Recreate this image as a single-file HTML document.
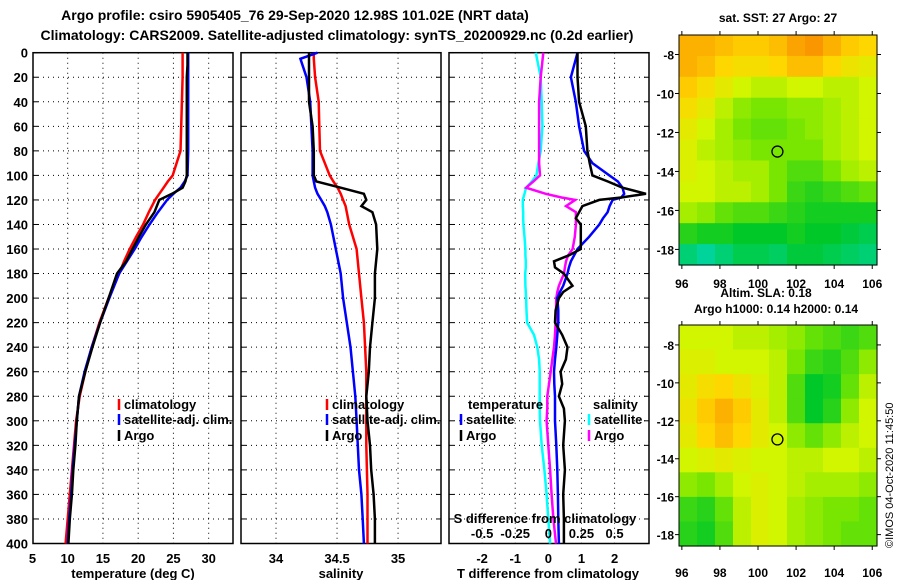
<!DOCTYPE html>
<html><head><meta charset="utf-8"><style>
body{margin:0;background:#fff;}
svg{display:block;font-family:"Liberation Sans",sans-serif;font-weight:bold;}
</style></head><body>
<svg id="c" width="900" height="580" xmlns="http://www.w3.org/2000/svg">
<text x="295" y="20" font-size="14" text-anchor="middle">Argo profile: csiro 5905405_76 29-Sep-2020 12.98S 101.02E (NRT data)</text>
<text x="337" y="40" font-size="14" text-anchor="middle">Climatology: CARS2009. Satellite-adjusted climatology: synTS_20200929.nc (0.2d earlier)</text>
<text x="133" y="578" font-size="13" text-anchor="middle">temperature (deg C)</text>
<text x="341" y="578" font-size="13" text-anchor="middle">salinity</text>
<text x="548" y="578" font-size="13" text-anchor="middle">T difference from climatology</text>
<text x="778" y="22" font-size="12" text-anchor="middle">sat. SST: 27 Argo: 27</text>
<text x="766" y="297" font-size="12" text-anchor="middle">Altim. SLA: 0.18</text>
<text x="776" y="313" font-size="12" text-anchor="middle">Argo h1000: 0.14 h2000: 0.14</text>
<text transform="translate(893,548) rotate(-90)" font-size="11" font-weight="normal">©IMOS 04-Oct-2020 11:45:50</text>
<g id="g"></g>
</svg>
<script>
const depths=[0,10,20,40,60,80,100,105,110,115,120,130,140,150,160,170,180,200,220,240,260,280,300,320,340,360,380,400];
const tempClim=[26.3,26.3,26.3,26.2,26.1,26.0,24.9,24.2,23.6,23.0,22.4,21.5,20.7,19.7,18.8,18.0,17.3,15.8,14.5,13.4,12.5,11.7,11.2,10.9,10.6,10.3,10.0,9.7];
const tempSat=[27.1,27.1,27.1,27.1,27.1,27.1,27.0,26.6,26.0,25.0,24.1,22.8,21.6,20.5,19.5,18.4,17.3,15.9,14.6,13.4,12.4,11.6,11.3,11.0,10.7,10.5,10.2,10.0];
const tempArgo=[27.0,27.0,26.9,26.9,26.9,26.9,26.9,26.7,26.3,24.8,23.0,22.3,21.1,20.1,19.2,18.3,17.0,15.8,14.6,13.5,12.5,11.6,11.3,11.1,10.8,10.6,10.3,10.1];
const sDepths=[0,5,20,40,60,80,100,105,110,115,120,125,130,140,160,180,200,220,240,260,280,300,320,340,360,380,400];
const salClim=[34.31,34.31,34.32,34.35,34.355,34.36,34.44,34.47,34.505,34.53,34.55,34.57,34.58,34.60,34.66,34.68,34.70,34.72,34.73,34.74,34.74,34.74,34.74,34.745,34.75,34.75,34.75];
const salSat=[34.34,34.20,34.25,34.28,34.29,34.30,34.30,34.31,34.32,34.34,34.37,34.40,34.42,34.45,34.49,34.53,34.55,34.58,34.61,34.63,34.65,34.66,34.67,34.68,34.70,34.71,34.72];
const salArgo=[34.27,34.27,34.27,34.27,34.30,34.31,34.31,34.33,34.53,34.72,34.74,34.70,34.79,34.82,34.83,34.81,34.81,34.79,34.77,34.76,34.74,34.75,34.77,34.78,34.80,34.81,34.81];
const dDepths=[0,20,40,60,80,90,100,105,110,115,118,120,125,130,135,140,150,160,165,170,175,180,190,195,200,210,220,230,240,250,260,270,280,290,300,320,340,360,380,400];
const tDiffArgo=[0.88,0.88,0.93,1.13,1.18,1.25,1.33,1.8,2.24,2.95,2.2,1.54,1.03,0.93,0.83,0.98,0.98,0.98,0.63,0.17,0.2,0.47,0.73,0.45,0.32,0.22,0.2,0.42,0.58,0.53,0.37,0.42,0.32,0.47,0.5,0.45,0.5,0.45,0.47,0.47];
const tDiffSat=[0.88,0.68,0.83,0.93,1.08,1.33,1.84,2.1,2.24,2.29,2.2,1.94,1.85,1.79,1.65,1.54,1.23,0.88,0.78,0.68,0.62,0.58,0.45,0.35,0.27,0.3,0.3,0.27,0.24,0.2,0.17,0.18,0.2,0.2,0.2,0.24,0.27,0.29,0.3,0.32];
const sDiffArgo=[-0.038,-0.058,-0.07,-0.07,-0.07,-0.07,-0.063,-0.113,-0.168,-0.02,0.1,0.203,0.133,0.208,0.208,0.208,0.2,0.183,0.15,0.133,0.125,0.118,0.08,0.068,0.06,0.058,0.055,0.05,0.043,0.03,0.018,0.005,-0.008,-0.008,-0.013,0,0.013,0.025,0.038,0.058];
const sDiffSat=[-0.095,-0.058,-0.05,-0.045,-0.058,-0.075,-0.09,-0.125,-0.168,-0.18,-0.188,-0.193,-0.193,-0.19,-0.19,-0.188,-0.18,-0.173,-0.173,-0.17,-0.17,-0.175,-0.173,-0.17,-0.168,-0.165,-0.16,-0.108,-0.083,-0.07,-0.065,-0.065,-0.065,-0.065,-0.063,-0.05,-0.03,-0.013,0,0.013];
const depthTicks=[0,20,40,60,80,100,120,140,160,180,200,220,240,260,280,300,320,340,360,380,400];
const tTicks=[5,10,15,20,25,30];
const sTicks=[34,34.5,35];
const dTTicks=[-2,-1,0,1,2];
const dSTicks=[-0.5,-0.25,0,0.25,0.5];
const dSTickLabels=["-0.5","-0.25","0","0.25","0.5"];
const lonTicks=[96,98,100,102,104,106];
const latTicks=[-8,-10,-12,-14,-16,-18];
const sstGrid=[
[2.8,2.8,2.7,2.6,2.6,2.7,2.9,3.0,2.8,2.6,2.5],
[2.8,2.7,2.5,2.4,2.4,2.5,2.7,2.7,2.5,2.3,2.2],
[2.6,2.4,2.2,2.0,1.9,1.9,2.0,2.0,1.9,1.9,2.0],
[2.4,2.2,1.9,1.7,1.6,1.6,1.7,1.7,1.8,1.9,2.0],
[2.2,2.0,1.8,1.6,1.5,1.5,1.6,1.7,1.8,1.9,2.0],
[2.1,1.9,1.8,1.7,1.6,1.6,1.6,1.6,1.8,1.9,2.0],
[2.1,2.0,1.9,1.8,1.8,1.6,1.4,1.4,1.6,1.8,1.9],
[2.0,2.0,1.9,1.9,1.8,1.6,1.3,1.2,1.3,1.4,1.5],
[1.8,1.7,1.5,1.4,1.4,1.3,1.2,1.1,1.1,1.1,1.1],
[1.2,1.1,1.1,1.0,1.0,1.0,1.1,1.0,1.0,0.9,0.8],
[0.6,0.4,0.6,0.8,0.8,0.7,0.9,0.9,0.8,0.7,0.6]];
const slaGrid=[
[2.0,2.0,2.0,1.9,1.9,1.8,1.7,1.5,1.4,1.3,1.4],
[2.1,2.1,2.0,2.0,2.0,1.9,1.6,1.3,1.2,1.4,1.7],
[2.2,2.4,2.5,2.3,2.1,1.9,1.4,1.0,1.1,1.5,1.9],
[2.3,2.6,2.8,2.6,2.2,1.9,1.4,1.0,1.2,1.7,2.0],
[2.2,2.5,2.7,2.5,2.2,2.0,1.7,1.5,1.7,1.9,2.0],
[2.0,2.1,2.2,2.1,2.0,2.0,1.9,1.9,2.0,2.0,1.9],
[1.7,1.6,1.8,2.0,2.1,2.0,1.9,1.8,1.8,1.8,1.7],
[1.3,1.2,1.5,1.9,2.1,2.0,1.8,1.7,1.6,1.6,1.5],
[1.2,1.1,1.4,1.9,2.1,2.0,1.8,1.7,1.6,1.5,1.5]];
const NS='http://www.w3.org/2000/svg';
const G=document.getElementById('g');
function el(t,a,p){const e=document.createElementNS(NS,t);for(const k in a)e.setAttribute(k,a[k]);(p||G).appendChild(e);return e;}
const Y0=52.7,Y1=543.5;
const yD=d=>Y0+d/400*(Y1-Y0);
const panels=[
 {x0:33,x1:233,lo:5.08,hi:33.45,name:'temperature-panel'},
 {x0:241,x1:441,lo:33.713,hi:35.352,name:'salinity-panel'},
 {x0:449,x1:649,lo:-3.0,hi:3.04,name:'difference-panel'}];
const sx=(p,v)=>p.x0+(v-p.lo)/(p.hi-p.lo)*(p.x1-p.x0);
const sxS=v=>sx(panels[2],v*4);
function line(p,ds,xs,col,name,fx){
  const pts=ds.map((d,i)=>(fx?fx(xs[i]):sx(p,xs[i])).toFixed(1)+','+yD(d).toFixed(1)).join(' ');
  const e=el('polyline',{points:pts,fill:'none',stroke:col,'stroke-width':2.5});
  
  
}
function txt(x,y,s,o){const e=el('text',Object.assign({x:x,y:y,'font-size':13},o||{}));e.textContent=s;return e;}
panels.forEach((p,pi)=>{
  const g=el('g',{});
  
  
  depthTicks.forEach(d=>{
    if(d>0&&d<400){el('line',{x1:p.x0,x2:p.x1,y1:yD(d),y2:yD(d),stroke:'#000','stroke-dasharray':'1,4'},g);}
    el('line',{x1:p.x0,x2:p.x0+5,y1:yD(d),y2:yD(d),stroke:'#000'},g);
    el('line',{x1:p.x1,x2:p.x1-5,y1:yD(d),y2:yD(d),stroke:'#000'},g);
  });
  const ticks=pi==0?tTicks:pi==1?sTicks:dTTicks;
  ticks.forEach(v=>{const x=sx(p,v);
    if(x>p.x0+1)el('line',{x1:x,x2:x,y1:Y0,y2:Y1,stroke:'#000','stroke-dasharray':'1,4'},g);
    const t=txt(x,563,String(v),{'text-anchor':'middle'});
    
    
  });
  el('rect',{x:p.x0,y:Y0,width:p.x1-p.x0,height:Y1-Y0,fill:'none',stroke:'#000','stroke-width':1.5},g);
});
depthTicks.forEach(d=>{const t=txt(28,yD(d)+5,String(d),{'text-anchor':'end'});
  
  });
const P=panels;
line(P[0],depths,tempClim,'#f00','temp-climatology-line');
line(P[0],depths,tempSat,'#00f','temp-satellite-line');
line(P[0],depths,tempArgo,'#000','temp-argo-line');
line(P[1],sDepths,salClim,'#f00','sal-climatology-line');
line(P[1],sDepths,salSat,'#00f','sal-satellite-line');
line(P[1],sDepths,salArgo,'#000','sal-argo-line');
line(P[2],dDepths,sDiffSat,'#0ff','sdiff-satellite-line',sxS);
line(P[2],dDepths,sDiffArgo,'#f0f','sdiff-argo-line',sxS);
line(P[2],dDepths,tDiffSat,'#00f','tdiff-satellite-line');
line(P[2],dDepths,tDiffArgo,'#000','tdiff-argo-line');
txt(545,523,'S difference from climatology',{'text-anchor':'middle'});
dSTicks.forEach((v,i)=>{const t=txt(sxS(v),538,dSTickLabels[i],{'text-anchor':'middle'});
  
  });
function leg(x,y,col,s,name){
  el('line',{x1:x,x2:x,y1:y-10,y2:y+1,stroke:col,'stroke-width':2.5});
  const t=txt(x+5,y,s);
  
  
}
[119,327].forEach(x=>{
  leg(x,409,'#f00','climatology','legend-climatology');
  leg(x,424,'#00f','satellite-adj. clim.','legend-satellite-adj');
  leg(x,440,'#000','Argo','legend-argo');
});
txt(468,409,'temperature');
leg(461,424,'#00f','satellite','legend-t-satellite');
leg(461,440,'#000','Argo','legend-t-argo');
txt(593,409,'salinity');
leg(589,424,'#0ff','satellite','legend-s-satellite');
leg(589,440,'#f0f','Argo','legend-s-argo');
function cmap(v){
  const stops=[[0,[0,220,230]],[1,[0,200,40]],[1.6,[120,230,0]],[2,[210,245,0]],[2.5,[255,215,0]],[3,[250,150,0]]];
  for(let i=1;i<stops.length;i++){if(v<=stops[i][0]){const a=stops[i-1],b=stops[i],t=(v-a[0])/(b[0]-a[0]);
    return 'rgb('+a[1].map((c,k)=>Math.round(c+(b[1][k]-c)*t)).join(',')+')';}}
  return 'rgb(250,150,0)';
}
function drawMap(grid,top,bottom,latTop,latBot,name,ticksY){
  const x0=679,x1=877,lon0=95.85,lon1=106.25;
  const g=el('g',{});
  
  
  const lonX=v=>x0+(v-lon0)/(lon1-lon0)*(x1-x0);
  const latY=v=>top+(latTop-v)/(latTop-latBot)*(bottom-top);
  const nr=grid.length,nc=grid[0].length,cw=(x1-x0)/nc,ch=(bottom-top)/nr;
  grid.forEach((row,r)=>row.forEach((v,c)=>{
    const cell=el('rect',{x:x0+c*cw,y:top+r*ch,width:cw+0.6,height:ch+0.6,fill:cmap(v)},g);
    
    
  }));
  el('rect',{x:x0,y:top,width:x1-x0,height:bottom-top,fill:'none',stroke:'#000'},g);
  latTicks.forEach(v=>{const y=latY(v);
    el('line',{x1:x0-4,x2:x0,y1:y,y2:y,stroke:'#000'},g);
    el('line',{x1:x1,x2:x1+4,y1:y,y2:y,stroke:'#000'},g);
    const t=txt(x0-5,y+5,String(v),{'text-anchor':'end','font-size':12});
    });
  lonTicks.forEach(v=>{const x=lonX(v);
    el('line',{x1:x,x2:x,y1:top-4,y2:top,stroke:'#000'},g);
    el('line',{x1:x,x2:x,y1:bottom,y2:bottom+4,stroke:'#000'},g);
    const t=txt(x,ticksY,String(v),{'text-anchor':'middle','font-size':12});
    });
  const m=el('circle',{cx:lonX(101.02),cy:latY(-12.98),r:5.5,fill:'none',stroke:'#000','stroke-width':1.3},g);
  
  
}
drawMap(sstGrid,35,265,-7.0,-18.8,'sst-map',288);
drawMap(slaGrid,325,546,-6.95,-18.6,'sla-map',577);
</script>
</body></html>
